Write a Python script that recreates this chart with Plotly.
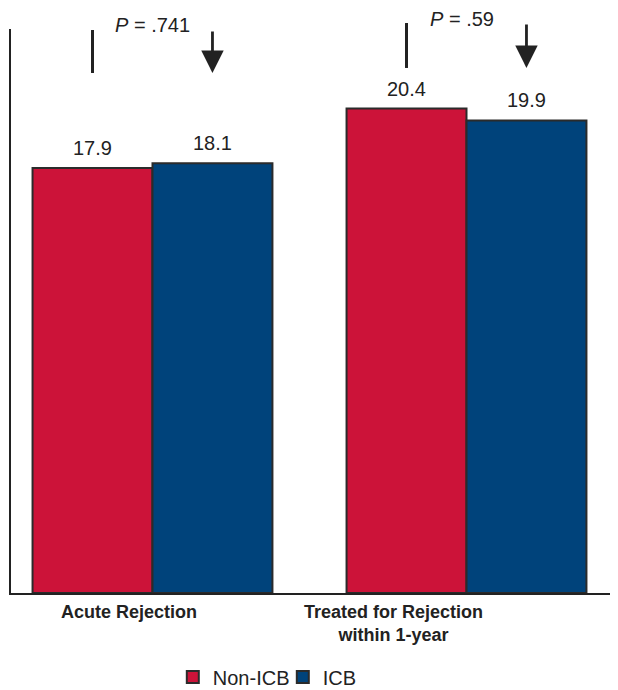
import plotly.graph_objects as go

categories = ["Acute Rejection", "Treated for Rejection<br>within 1-year"]
series_names = ["Non-ICB", "ICB"]
non_icb = [17.9, 20.4]
icb = [18.1, 19.9]
p_values = [".741", ".59"]

RED = "#CC1339"
BLUE = "#00437B"
DARK = "#222222"
FONT = "Liberation Sans, Arial, Helvetica, sans-serif"

fig = go.Figure()
for name, vals, col in [(series_names[0], non_icb, RED), (series_names[1], icb, BLUE)]:
    fig.add_trace(go.Bar(
        name=name, x=categories, y=vals,
        marker=dict(color=col, line=dict(color="#2b2b2b", width=2)),
        hoverinfo="x+y+name",
    ))

OFF = 0.191  # half of one bar, in category units (group width 0.764)
annotations = []
shapes = []
for i, cat in enumerate(categories):
    # value labels
    for off, v in [(-OFF, non_icb[i]), (OFF, icb[i])]:
        annotations.append(dict(x=i + off, y=v, xref="x", yref="y", text=f"{v:.1f}",
                                showarrow=False, xanchor="center", yanchor="bottom", yshift=7,
                                font=dict(size=20, color=DARK, family=FONT)))
    # category labels (below axis)
    annotations.append(dict(x=i + (-0.075 if i == 0 else -0.231), y=0, xref="x", yref="paper",
                            text=f"<b>{cat}</b>", showarrow=False, xanchor="center",
                            yanchor="top", yshift=-7,
                            font=dict(size=18, color=DARK, family=FONT)))

# P-value annotations, tick lines and arrows
p_y = [1.0071, 1.0177]
line_top = [0.9982, 1.0106]
line_bot = [0.922, 0.9309]
p_x = [0.0, 0.986]
for i in range(len(categories)):
    annotations.append(dict(x=p_x[i], y=p_y[i], xref="x", yref="paper",
                            text=f"<i>P</i> = {p_values[i]}", showarrow=False,
                            xanchor="center", yanchor="middle",
                            font=dict(size=20, color=DARK, family=FONT)))
    shapes.append(dict(type="line", xref="x", yref="paper", x0=i - OFF, x1=i - OFF,
                       y0=line_bot[i], y1=line_top[i], line=dict(color=DARK, width=3)))
    arrow_len = (line_top[i] - line_bot[i]) * 564
    annotations.append(dict(x=i + OFF, y=line_bot[i], xref="x", yref="paper", text="",
                            showarrow=True, ax=0, ay=-arrow_len, arrowhead=2,
                            arrowsize=1.6, arrowwidth=2.8, arrowcolor=DARK, standoff=0))

fig.update_layout(
    width=610, height=690,
    margin=dict(l=3, r=1, t=21, b=105),
    paper_bgcolor="white", plot_bgcolor="white",
    barmode="group", bargap=0.236, bargroupgap=0,
    font=dict(family=FONT, color=DARK, size=20),
    xaxis=dict(range=[-0.4506, 1.4793], showticklabels=False, ticks="",
               showline=True, linecolor=DARK, linewidth=2, showgrid=False, zeroline=False),
    yaxis=dict(range=[0, 23.75], showticklabels=False, ticks="", showgrid=False,
               showline=True, linecolor=DARK, linewidth=2, zeroline=False),
    legend=dict(orientation="h", x=0.267, xanchor="left", y=-0.149, yanchor="middle",
                entrywidth=65, entrywidthmode="pixels",
                font=dict(size=20, color=DARK, family=FONT), traceorder="normal"),
    annotations=annotations,
    shapes=shapes,
    showlegend=True,
)

fig.write_html("out.html")
